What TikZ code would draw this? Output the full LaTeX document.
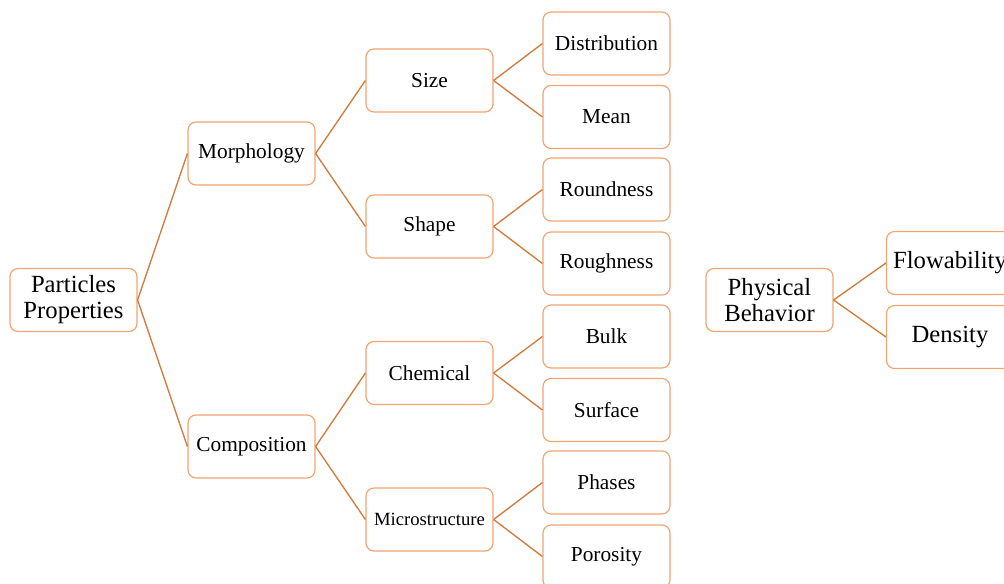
\documentclass[tikz,border=0pt]{standalone}
\usepackage{fontspec}
\setmainfont{Liberation Serif}
\definecolor{boxline}{RGB}{240,165,115}
\definecolor{connline}{RGB}{208,122,60}
\tikzset{
  pbox/.style={draw=boxline, line width=0.9pt, rounded corners=6pt, fill=white,
    minimum width=95.25pt, minimum height=47.25pt, inner sep=1pt, align=center, text=black},
  bigtxt/.style={font=\fontsize{18.5}{19.5}\selectfont},
  midtxt/.style={font=\fontsize{16}{18}\selectfont},
  smalltxt/.style={font=\fontsize{14}{16}\selectfont},
  conn/.style={draw=connline, line width=1pt}
}
\begin{document}
\begin{tikzpicture}[x=0.75pt,y=-0.75pt]
\useasboundingbox (0,0) rectangle (1004,583);
\clip (0,0) rectangle (1004,583);
% root
\node[pbox,bigtxt] (pp) at (73.5,300) {Particles\\Properties};
% level 1
\node[pbox,midtxt] (morph) at (251.5,153.5) {Morphology};
\node[pbox,midtxt] (comp) at (251.5,446.5) {Composition};
% level 2
\node[pbox,midtxt] (size) at (429.5,80.5) {Size};
\node[pbox,midtxt] (shape) at (429.5,226.5) {Shape};
\node[pbox,midtxt] (chem) at (429.5,373) {Chemical};
\node[pbox,smalltxt] (micro) at (429.5,519.5) {Microstructure};
% leaves
\node[pbox,midtxt] (dist) at (606.5,43.5) {Distribution};
\node[pbox,midtxt] (mean) at (606.5,117) {Mean};
\node[pbox,midtxt] (round) at (606.5,189.5) {Roundness};
\node[pbox,midtxt] (rough) at (606.5,263.5) {Roughness};
\node[pbox,midtxt] (bulk) at (606.5,336.5) {Bulk};
\node[pbox,midtxt] (surf) at (606.5,410) {Surface};
\node[pbox,midtxt] (phase) at (606.5,482.5) {Phases};
\node[pbox,midtxt] (poro) at (606.5,556.5) {Porosity};
% physical behavior
\node[pbox,bigtxt] (phys) at (769.5,300) {Physical\\Behavior};
\node[pbox,bigtxt] (flow) at (950,263) {Flowability};
\node[pbox,bigtxt] (dens) at (950,337) {Density};
% connectors
\draw[conn] (pp.east) -- (morph.west);
\draw[conn] (pp.east) -- (comp.west);
\draw[conn] (morph.east) -- (size.west);
\draw[conn] (morph.east) -- (shape.west);
\draw[conn] (comp.east) -- (chem.west);
\draw[conn] (comp.east) -- (micro.west);
\draw[conn] (size.east) -- (dist.west);
\draw[conn] (size.east) -- (mean.west);
\draw[conn] (shape.east) -- (round.west);
\draw[conn] (shape.east) -- (rough.west);
\draw[conn] (chem.east) -- (bulk.west);
\draw[conn] (chem.east) -- (surf.west);
\draw[conn] (micro.east) -- (phase.west);
\draw[conn] (micro.east) -- (poro.west);
\draw[conn] (phys.east) -- (flow.west);
\draw[conn] (phys.east) -- (dens.west);
\end{tikzpicture}
\end{document}
